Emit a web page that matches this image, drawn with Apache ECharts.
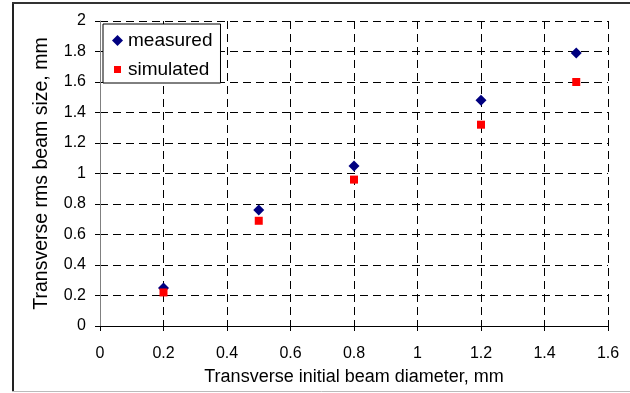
<!DOCTYPE html>
<html>
<head>
<meta charset="utf-8">
<script src="https://cdn.jsdelivr.net/npm/echarts@6/dist/echarts.min.js"></script>
<style>
  html, body { margin: 0; padding: 0; background: #fff; }
  #main { width: 630px; height: 393px; }
</style>
</head>
<body>
<div id="main"></div>
<script>
// beam diameter (x) vs rms beam size (y), both in mm
const diameters = [0.2, 0.5, 0.8, 1.2, 1.5]
const measured = [0.25, 0.76, 1.05, 1.48, 1.79]
const simulated = [0.22, 0.69, 0.96, 1.32, 1.6]
const seriesNames = ['measured', 'simulated']

const font = 'Arial, "Liberation Sans", sans-serif'
const dash = { type: [8, 5], color: '#000', width: 1 }

const chart = echarts.init(document.getElementById('main'))

const option = {
  backgroundColor: '#fff',
  animation: false,
  textStyle: { fontFamily: font, color: '#000' },
  grid: { left: 100, right: 22, top: 21, bottom: 67 },
  // frame around the chart (left/top dark, bottom light)
  graphic: [
    { type: 'line', shape: { x1: 13, y1: 3, x2: 13, y2: 392 }, style: { stroke: '#222', lineWidth: 2 } },
    { type: 'line', shape: { x1: 12, y1: 3, x2: 640, y2: 3 }, style: { stroke: '#333', lineWidth: 2 } },
    { type: 'line', shape: { x1: 12, y1: 391.5, x2: 640, y2: 391.5 }, style: { stroke: '#bbb', lineWidth: 1 } }
  ],
  legend: {
    orient: 'vertical',
    left: 103,
    top: 24,
    padding: [7, 8, 4, 9],
    itemGap: 10,
    itemWidth: 11,
    itemHeight: 11,
    backgroundColor: '#fff',
    borderColor: '#000',
    borderWidth: 1,
    textStyle: { fontSize: 19, fontFamily: font, color: '#000' },
    data: [
      { name: seriesNames[0], icon: 'diamond' },
      { name: seriesNames[1], icon: 'path://M0,0M2,2h7v7h-7zM11,11' }
    ]
  },
  xAxis: {
    type: 'value',
    min: 0,
    max: 1.6,
    interval: 0.2,
    name: 'Transverse initial beam diameter, mm',
    nameLocation: 'middle',
    nameGap: 42,
    nameTextStyle: { fontSize: 18, fontFamily: font, color: '#000' },
    axisLine: { show: true, lineStyle: { color: '#000', width: 1 } },
    axisTick: { show: true, inside: false, length: 5, lineStyle: { color: '#000' } },
    axisLabel: { fontSize: 16, margin: 20, color: '#000', formatter: v => String(+v.toFixed(1)) },
    splitLine: { show: true, lineStyle: dash }
  },
  yAxis: {
    type: 'value',
    min: 0,
    max: 2,
    interval: 0.2,
    name: 'Transverse rms beam size, mm',
    nameLocation: 'middle',
    nameGap: 48,
    nameTextStyle: { fontSize: 19.5, fontFamily: font, color: '#000' },
    axisLine: { show: true, lineStyle: { color: '#808080', width: 1 } },
    axisTick: { show: true, inside: false, length: 5, lineStyle: { color: '#000' } },
    axisLabel: { fontSize: 16, margin: 14, color: '#000', formatter: v => String(+v.toFixed(1)) },
    splitLine: { show: true, lineStyle: dash }
  },
  series: [
    {
      name: seriesNames[0],
      type: 'scatter',
      symbol: 'diamond',
      symbolSize: 11,
      itemStyle: { color: '#000080', opacity: 1 },
      data: diameters.map((d, i) => [d, measured[i]]),
      z: 3
    },
    {
      name: seriesNames[1],
      type: 'scatter',
      symbol: 'rect',
      symbolSize: 8,
      itemStyle: { color: '#ff0000', opacity: 1 },
      data: diameters.map((d, i) => [d, simulated[i]]),
      z: 4
    }
  ]
}

chart.setOption(option)
</script>
</body>
</html>
